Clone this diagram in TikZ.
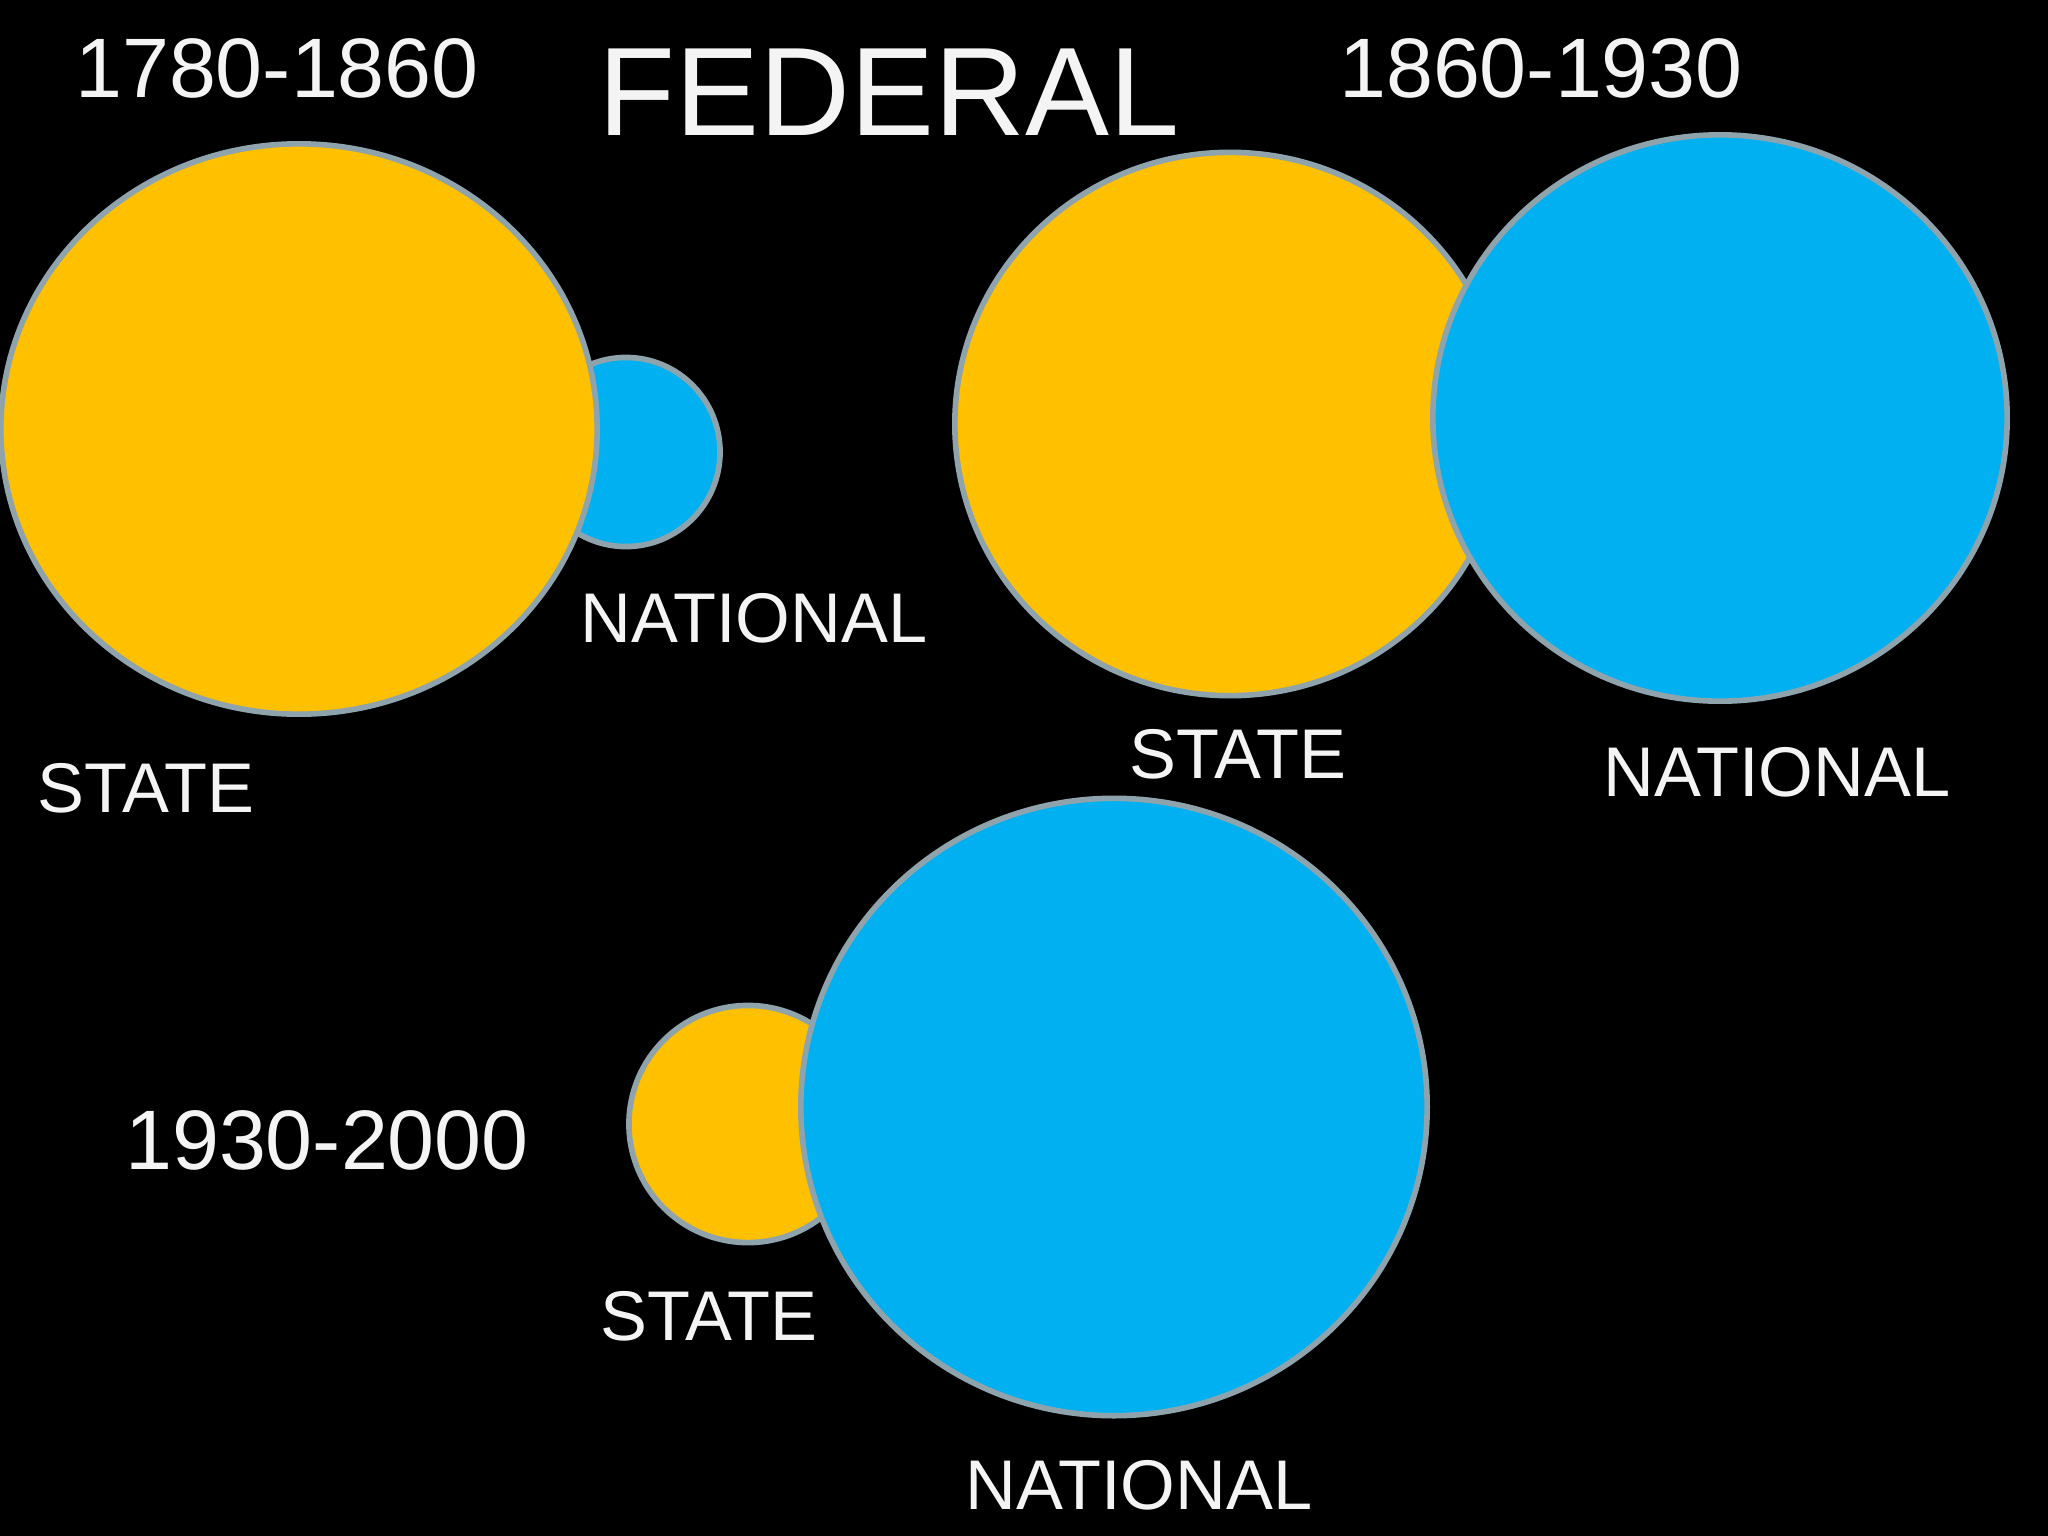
\documentclass[tikz,border=0pt]{standalone}
\usepackage{fontspec}
\setmainfont{Liberation Sans}
\usetikzlibrary{shapes.geometric}
\definecolor{sYellow}{HTML}{FFC000}
\definecolor{nBlue}{HTML}{00B0F0}
\definecolor{rimGray}{HTML}{8EA3AC}
\definecolor{txtWhite}{HTML}{F4F4F4}
\tikzset{
  blob/.style={draw=rimGray, line width=1.6pt, ellipse, inner sep=0pt},
  stateblob/.style={blob, fill=sYellow},
  natblob/.style={blob, fill=nBlue},
  era/.style={text=txtWhite, inner sep=0pt, font=\fontsize{24}{28}\selectfont},
  tag/.style={text=txtWhite, inner sep=0pt, font=\fontsize{20}{24}\selectfont},
}

\begin{document}
\begin{tikzpicture}[x=0.01cm, y=-0.01cm]
    \fill[black] (0,0) rectangle (2048,1536);
    \useasboundingbox (0,0) rectangle (2048,1536);
    % title
    \node[text=txtWhite, inner sep=0pt, font=\fontsize{35.8}{40}\selectfont] (title) at (889,92) {FEDERAL};
    % 1780-1860
    \node[natblob, minimum width=1.88cm, minimum height=1.89cm] (nat1) at (626,452) {};
    \node[stateblob, minimum width=5.96cm, minimum height=5.70cm] (state1) at (299,429) {};
    \node[era] (era1) at (277,68) {1780-1860};
    \node[tag] (nat1lbl) at (754,618) {NATIONAL};
    \node[tag] (state1lbl) at (146,788) {STATE};
    % 1860-1930
    \node[stateblob, minimum width=5.50cm, minimum height=5.43cm] (state2) at (1230,424) {};
    \node[natblob, minimum width=5.74cm, minimum height=5.66cm] (nat2) at (1720,418) {};
    \node[era] (era2) at (1541,68) {1860-1930};
    \node[tag] (state2lbl) at (1238,754) {STATE};
    \node[tag] (nat2lbl) at (1777,772) {NATIONAL};
    % 1930-2000
    \node[stateblob, minimum width=2.38cm, minimum height=2.37cm] (state3) at (748,1124) {};
    \node[natblob, minimum width=6.26cm, minimum height=6.17cm] (nat3) at (1114,1107) {};
    \node[era] (era3) at (327,1140) {1930-2000};
    \node[tag] (state3lbl) at (709,1316) {STATE};
    \node[tag] (nat3lbl) at (1139,1485) {NATIONAL};
\end{tikzpicture}
\end{document}
